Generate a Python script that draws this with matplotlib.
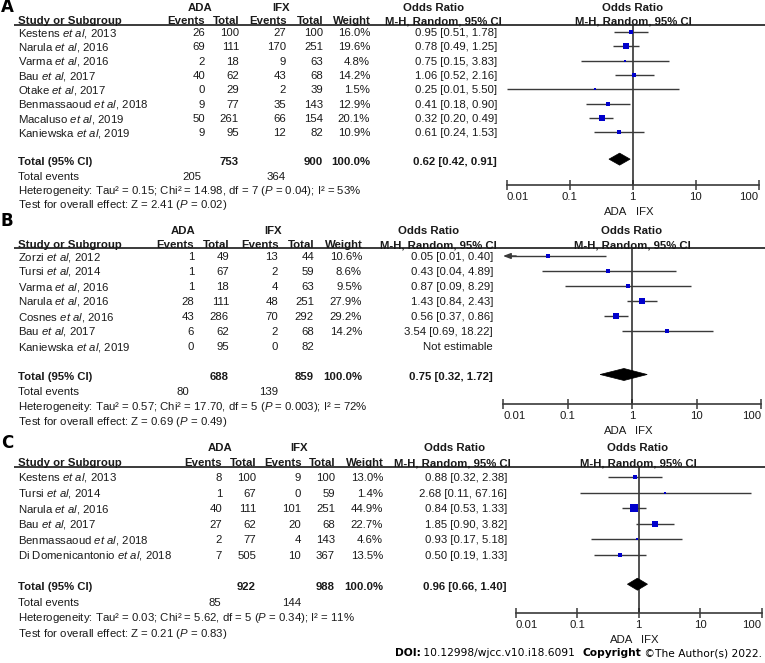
import matplotlib
matplotlib.use('Agg')
import matplotlib.pyplot as plt
from matplotlib.patches import Polygon
from matplotlib.ticker import NullLocator

plt.rcParams['font.family'] = ['Liberation Sans', 'DejaVu Sans']
plt.rcParams['mathtext.fontset'] = 'custom'
plt.rcParams['mathtext.rm'] = 'Liberation Sans'
plt.rcParams['mathtext.it'] = 'Liberation Sans:italic'
plt.rcParams['mathtext.bf'] = 'Liberation Sans:bold'

# ---------------- data ----------------
# Panel A
a_names = ['Kestens', 'Narula', 'Varma', 'Bau', 'Otake', 'Benmassaoud', 'Macaluso', 'Kaniewska']
a_years = [2013, 2016, 2016, 2017, 2017, 2018, 2019, 2019]
a_ada_events = [26, 69, 2, 40, 0, 9, 50, 9]
a_ada_total = [100, 111, 18, 62, 29, 77, 261, 95]
a_ifx_events = [27, 170, 9, 43, 2, 35, 66, 12]
a_ifx_total = [100, 251, 63, 68, 39, 143, 154, 82]
a_weight = [16.0, 19.6, 4.8, 14.2, 1.5, 12.9, 20.1, 10.9]
a_or = [0.95, 0.78, 0.75, 1.06, 0.25, 0.41, 0.32, 0.61]
a_lo = [0.51, 0.49, 0.15, 0.52, 0.01, 0.18, 0.20, 0.24]
a_hi = [1.78, 1.25, 3.83, 2.16, 5.50, 0.90, 0.49, 1.53]
a_tot = [753, 900]
a_tot_events = [205, 364]
a_tot_or = [0.62, 0.42, 0.91]
a_het = ['0.15', '14.98', '7', '0.04', '53']
a_test = ['2.41', '0.02']

# Panel B
b_names = ['Zorzi', 'Tursi', 'Varma', 'Narula', 'Cosnes', 'Bau', 'Kaniewska']
b_years = [2012, 2014, 2016, 2016, 2016, 2017, 2019]
b_ada_events = [1, 1, 1, 28, 43, 6, 0]
b_ada_total = [49, 67, 18, 111, 286, 62, 95]
b_ifx_events = [13, 2, 4, 48, 70, 2, 0]
b_ifx_total = [44, 59, 63, 251, 292, 68, 82]
b_weight = [10.6, 8.6, 9.5, 27.9, 29.2, 14.2, None]
b_or = [0.05, 0.43, 0.87, 1.43, 0.56, 3.54, None]
b_lo = [0.005, 0.04, 0.09, 0.84, 0.37, 0.69, None]
b_hi = [0.40, 4.89, 8.29, 2.43, 0.86, 18.22, None]
b_tot = [688, 859]
b_tot_events = [80, 139]
b_tot_or = [0.75, 0.32, 1.72]
b_het = ['0.57', '17.70', '5', '0.003', '72']
b_test = ['0.69', '0.49']

# Panel C
c_names = ['Kestens', 'Tursi', 'Narula', 'Bau', 'Benmassaoud', 'Di Domenicantonio']
c_years = [2013, 2014, 2016, 2017, 2018, 2018]
c_ada_events = [8, 1, 40, 27, 2, 7]
c_ada_total = [100, 67, 111, 62, 77, 505]
c_ifx_events = [9, 0, 101, 20, 4, 10]
c_ifx_total = [100, 59, 251, 68, 143, 367]
c_weight = [13.0, 1.4, 44.9, 22.7, 4.6, 13.5]
c_or = [0.88, 2.68, 0.84, 1.85, 0.93, 0.50]
c_lo = [0.32, 0.11, 0.53, 0.90, 0.17, 0.19]
c_hi = [2.38, 67.16, 1.33, 3.82, 5.18, 1.33]
c_tot = [922, 988]
c_tot_events = [85, 144]
c_tot_or = [0.96, 0.66, 1.40]
c_het = ['0.03', '5.62', '5', '0.34', '11']
c_test = ['0.21', '0.83']

tick_vals = [0.01, 0.1, 1, 10, 100]
tick_labels = ['0.01', '0.1', '1', '10', '100']

# ---------------- layout ----------------
W, H = 765, 663
FS = 8.2
BASE = 4.0          # baseline offset from row centre (px)
TXT = '#1a1a1a'
LINE = '#3a3a3a'
BLUE = '#0000CC'

fig = plt.figure(figsize=(W / 100, H / 100), dpi=100)
ax0 = fig.add_axes([0, 0, 1, 1])
ax0.set_xlim(0, W)
ax0.set_ylim(H, 0)
ax0.axis('off')
renderer = fig.canvas.get_renderer()


def _width(s, size, weight, style, family):
    kw = {} if family is None else {'family': family}
    t1 = ax0.text(0, 0, s + 'l', fontsize=size, fontweight=weight, fontstyle=style, **kw)
    t2 = ax0.text(0, 0, 'l', fontsize=size, fontweight=weight, fontstyle=style, **kw)
    w = t1.get_window_extent(renderer).width - t2.get_window_extent(renderer).width
    t1.remove()
    t2.remove()
    return w


def rich(x, y, pieces, ha='left', size=FS, color=TXT, family=None, base=BASE):
    ws = [_width(s, size, wg, st, family) for s, wg, st in pieces]
    total = sum(ws)
    if ha == 'right':
        cx = x - total
    elif ha == 'center':
        cx = x - total / 2
    else:
        cx = x
    kw = {} if family is None else {'family': family}
    for (s, wg, st), w in zip(pieces, ws):
        ax0.text(cx, y + base, s, fontsize=size, fontweight=wg, fontstyle=st, color=color,
                 va='baseline', ha='left', **kw)
        cx += w


def txt(x, y, s, ha='right', bold=False):
    ax0.text(x, y + BASE, s, fontsize=FS, fontweight='bold' if bold else 'normal', color=TXT,
             va='baseline', ha=ha)


def panel(label, L, names, years, ae, at, ie, it, wt, orr, lo, hi, tot, tev, tor, het, test):
    ax0.text(1, L['lab'], label, fontsize=12, fontweight='bold', color='black', va='center', ha='left',
             family='DejaVu Sans')
    h1, h2 = L['h1'], L['h2']
    txt(L['ada_c'], h1, 'ADA', ha='center', bold=True)
    txt(L['ifx_c'], h1, 'IFX', ha='center', bold=True)
    txt(L['or_c'], h1, 'Odds Ratio', ha='center', bold=True)
    txt(L['f_c'], h1, 'Odds Ratio', ha='center', bold=True)
    txt(18, h2, 'Study or Subgroup', ha='left', bold=True)
    txt(L['c'][0], h2, 'Events', bold=True)
    txt(L['c'][1] + 1, h2, 'Total', bold=True)
    txt(L['c'][2] + 1, h2, 'Events', bold=True)
    txt(L['c'][3] + 1, h2, 'Total', bold=True)
    txt(L['c'][4] + 1, h2, 'Weight', bold=True)
    txt(L['mh_r'], h2, 'M-H, Random, 95% CI', bold=True)
    txt(L['f_c'], h2, 'M-H, Random, 95% CI', ha='center', bold=True)
    ax0.plot([14, W], [L['line'], L['line']], color=LINE, lw=1.4, solid_capstyle='butt')

    y0, s = L['y0'], L['s']
    cols = L['c']
    for i, nm in enumerate(names):
        y = y0 + i * s
        txt(18, y, '%s $\\mathit{et\\ al}$, %d' % (nm, years[i]), ha='left')
        txt(cols[0], y, str(ae[i]))
        txt(cols[1], y, str(at[i]))
        txt(cols[2], y, str(ie[i]))
        txt(cols[3], y, str(it[i]))
        if wt[i] is not None:
            txt(cols[4], y, '%.1f%%' % wt[i])
            txt(cols[5], y, '%.2f [%.2f, %.2f]' % (orr[i], lo[i], hi[i]))
        else:
            txt(cols[5], y, 'Not estimable')
    n = len(names)
    yt = y0 + (n + 1) * s
    txt(18, yt, 'Total (95% CI)', ha='left', bold=True)
    txt(cols[1], yt, str(tot[0]), bold=True)
    txt(cols[3], yt, str(tot[1]), bold=True)
    txt(cols[4], yt, '100.0%', bold=True)
    txt(cols[5], yt, '%.2f [%.2f, %.2f]' % tuple(tor), bold=True)
    ye = yt + s
    txt(18, ye, 'Total events', ha='left')
    txt(cols[0] - L['tev_off'], ye, str(tev[0]))
    txt(cols[2], ye, str(tev[1]))
    yh = ye + s
    txt(18, yh, 'Heterogeneity: Tau\u00b2 = %s; Chi\u00b2 = %s, df = %s ($\\mathit{P}$ = %s); I\u00b2 = %s%%'
        % (het[0], het[1], het[2], het[3], het[4]), ha='left')
    yz = yh + s
    txt(18, yz, 'Test for overall effect: Z = %s ($\\mathit{P}$ = %s)' % (test[0], test[1]), ha='left')

    # forest plot axes
    fx0, fx1, ytop, yax = L['fx0'], L['fx1'], L['line'], L['axis']
    ax = fig.add_axes([fx0 / W, 1 - yax / H, (fx1 - fx0) / W, (yax - ytop) / H])
    ax.set_xscale('log')
    ax.set_xlim(tick_vals[0], tick_vals[-1])
    ax.set_ylim(yax, ytop)
    ax.patch.set_visible(False)
    for sp in ['top', 'left', 'right']:
        ax.spines[sp].set_visible(False)
    ax.spines['bottom'].set_color(LINE)
    ax.spines['bottom'].set_linewidth(1.2)
    ax.set_yticks([])
    ax.set_xticks(tick_vals)
    ax.set_xticklabels(tick_labels)
    ax.xaxis.set_minor_locator(NullLocator())
    ax.tick_params(axis='x', direction='inout', length=6.5, width=1.1, color=LINE,
                   labelsize=FS, labelcolor=TXT, pad=1.5)
    labs = ax.get_xticklabels()
    labs[0].set_ha('left')
    labs[-1].set_ha('right')
    ax.plot([1, 1], [ytop, yax], color='#222222', lw=1.1, zorder=2)
    xmin = tick_vals[0]
    for i in range(n):
        if orr[i] is None:
            continue
        y = y0 + i * s
        if lo[i] < xmin:
            ax.hlines(y, xmin * 1.25, hi[i], color=LINE, lw=1.0, zorder=3)
            ax.annotate('', xy=(xmin, y), xytext=(xmin * 1.6, y),
                        arrowprops=dict(arrowstyle='-|>,head_length=0.45,head_width=0.17',
                                        color=LINE, lw=1.0, shrinkA=0, shrinkB=0),
                        annotation_clip=False)
        else:
            ax.hlines(y, lo[i], hi[i], color=LINE, lw=1.0, zorder=3, clip_on=False)
        side = max(1.18 * wt[i] ** 0.5, 2.2)
        ax.plot([orr[i]], [y], 's', ms=side * 0.72, color=BLUE, mew=0, zorder=4)
    dh = 6.0
    dy = yt + L['dia_off']
    ax.add_patch(Polygon([(tor[1], dy), (tor[0], dy - dh), (tor[2], dy), (tor[0], dy + dh)],
                         closed=True, facecolor='black', edgecolor='black', lw=0.5, zorder=5))
    # favours labels
    x1px = fx0 + (fx1 - fx0) * 0.5
    txt(x1px - 5, yax + 26, 'ADA', ha='right')
    txt(x1px + 3, yax + 26, 'IFX', ha='left')


LA = dict(lab=7.5, h1=7, h2=20, line=24.5, ada_c=200, ifx_c=281, or_c=434, f_c=633, mh_r=502,
          c=[205, 239, 286, 323, 370, 497], y0=32, s=14.35, fx0=506.7, fx1=758.7, axis=185,
          tev_off=4, dia_off=-2)
LB = dict(lab=221, h1=229.5, h2=244, line=248, ada_c=183, ifx_c=273, or_c=429, f_c=632, mh_r=497,
          c=[194, 229, 278, 314, 362, 493], y0=256, s=15.0, fx0=503, fx1=761, axis=404,
          tev_off=5, dia_off=-1.5)
LC = dict(lab=443, h1=447, h2=462, line=467, ada_c=220, ifx_c=299, or_c=455, f_c=638, mh_r=511,
          c=[222, 256, 301, 335, 383, 507], y0=477, s=15.6, fx0=515.5, fx1=761.5, axis=613,
          tev_off=1, dia_off=-2)

panel('A', LA, a_names, a_years, a_ada_events, a_ada_total, a_ifx_events, a_ifx_total,
      a_weight, a_or, a_lo, a_hi, a_tot, a_tot_events, a_tot_or, a_het, a_test)
panel('B', LB, b_names, b_years, b_ada_events, b_ada_total, b_ifx_events, b_ifx_total,
      b_weight, b_or, b_lo, b_hi, b_tot, b_tot_events, b_tot_or, b_het, b_test)
panel('C', LC, c_names, c_years, c_ada_events, c_ada_total, c_ifx_events, c_ifx_total,
      c_weight, c_or, c_lo, c_hi, c_tot, c_tot_events, c_tot_or, c_het, c_test)

# footer
rich(762, 653, [('DOI:', 'bold', 'normal'), (' 10.12998/wjcc.v10.i18.6091  ', 'normal', 'normal'),
                ('Copyright', 'bold', 'normal'), (' \u00a9The Author(s) 2022.', 'normal', 'normal')],
     ha='right', size=7.7, color='black', family='DejaVu Sans', base=3.5)

fig.savefig('out.png', dpi=100)
